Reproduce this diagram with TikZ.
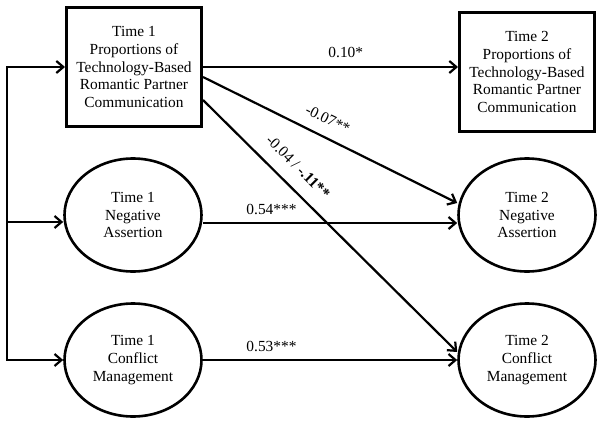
\documentclass[tikz,border=0pt]{standalone}
\usepackage{fontspec}
\setmainfont{Liberation Serif}
\usetikzlibrary{arrows.meta}
\usetikzlibrary{shapes.geometric}

\begin{document}
\begin{tikzpicture}[x=1pt,y=-1pt,
        >={Straight Barb[length=7pt,width=12pt]},
        every node/.style={font=\fontsize{15.4}{17.7}\selectfont,align=center},
        varbox/.style={draw,line width=3pt,minimum width=135pt,minimum height=118pt,inner sep=0pt},
        latent/.style={draw,ellipse,line width=2.6pt,minimum width=137pt,minimum height=113pt,inner sep=0pt},
        path/.style={->,line width=2.2pt}]
        \useasboundingbox (0,0) rectangle (604,428);
        \node[varbox] (t1comm) at (134,67) {Time 1\\Proportions of\\Technology-Based\\Romantic Partner\\Communication};
        \node[varbox] (t2comm) at (527,72) {Time 2\\Proportions of\\Technology-Based\\Romantic Partner\\Communication};
        \node[latent] (t1neg) at (133,215) {Time 1\\Negative\\Assertion};
        \node[latent] (t2neg) at (527,215) {Time 2\\Negative\\Assertion};
        \node[latent] (t1con) at (133,360) {Time 1\\Conflict\\Management};
        \node[latent] (t2con) at (527,360) {Time 2\\Conflict\\Management};

        \coordinate (bustop) at (7,67);
        \coordinate (busmid) at (7,222);
        \coordinate (busbot) at (7,360);
        \draw[path] (bustop) -- (busbot) -- (t1con);
        \draw[path] (busbot) -- (bustop) -- (t1comm);
        \draw[path] (busmid) -- ([yshift=-7pt]t1neg.west);

        \draw[path] (t1comm) -- (t2comm.west |- t1comm) node[pos=0.56,above=5pt] {0.10*};
        \draw[path] ([yshift=-10pt]t1comm.east) -- ([yshift=12pt]t2neg.west) node[pos=0.46,sloped,above=8pt] {-0.07**};
        \draw[path] ([yshift=-33pt]t1comm.east) -- ([yshift=8pt]t2con.west) node[pos=0.32,sloped,above=10pt] {-0.04 / \textbf{-.11**}};
        \draw[path] ([yshift=-8pt]t1neg.east) -- ([yshift=-8pt]t2neg.west) node[pos=0.27,above=4pt] {0.54***};
        \draw[path] (t1con) -- (t2con) node[pos=0.27,above=4pt] {0.53***};
\end{tikzpicture}
\end{document}
